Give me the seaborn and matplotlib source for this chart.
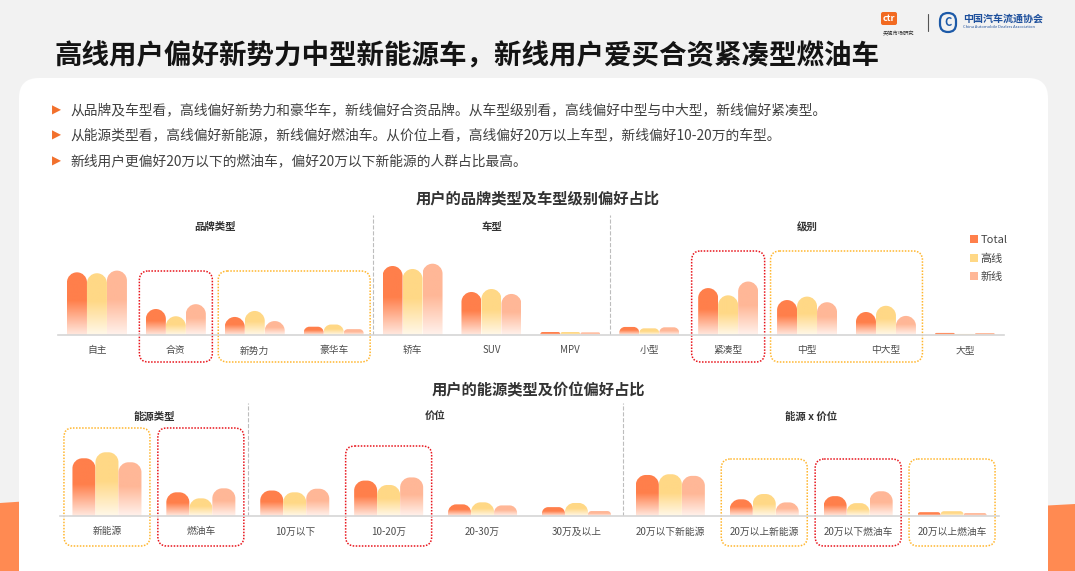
import matplotlib
matplotlib.use('Agg')
import matplotlib.pyplot as plt
import pandas as pd
import seaborn as sns
import numpy as np
from matplotlib.patches import FancyBboxPatch, PathPatch, Polygon, Patch, Rectangle
from matplotlib.path import Path

sns.set_style('white')
plt.rcParams['font.family'] = ['Noto Sans CJK SC', 'DejaVu Sans']

# data (%)
groups = ['Total', '高线', '新线']
group_colors = ['#ff7f4b', '#ffd886', '#ffb797']

top_cats = ['自主', '合资', '新势力', '豪华车', '轿车', 'SUV', 'MPV',
            '小型', '紧凑型', '中型', '中大型', '大型']
top_total = [54.5, 22.6, 15.7, 7.2, 60.0, 37.4, 2.6, 7.0, 40.8, 30.4, 20.0, 1.8]
top_high = [53.7, 16.3, 20.9, 9.1, 57.4, 40.0, 2.6, 5.8, 34.5, 33.4, 25.4, 0.9]
top_new = [56.0, 26.8, 12.1, 5.1, 62.0, 35.7, 2.3, 6.7, 46.5, 28.5, 16.6, 1.7]

bot_cats = ['新能源', '燃油车', '10万以下', '10-20万', '20-30万', '30万及以上',
            '20万以下新能源', '20万以上新能源', '20万以下燃油车', '20万以上燃油车']
bot_total = [70.9, 29.1, 31.3, 43.5, 14.3, 10.9, 50.4, 20.5, 24.4, 4.7]
bot_high = [78.3, 21.7, 29.1, 38.1, 16.8, 16.0, 51.3, 27.0, 15.8, 5.9]
bot_new = [66.0, 34.0, 33.5, 47.4, 13.0, 6.1, 49.3, 16.7, 30.4, 3.6]

top_sections = ['品牌类型', '车型', '级别']
top_section_pos = [1.5, 5, 9]
bot_sections = ['能源类型', '价位', '能源 x 价位']
bot_section_pos = [0.5, 3.5, 7.5]

W, H = 1075, 571
fig = plt.figure(figsize=(W / 100, H / 100), dpi=100, facecolor='#f2f2f2')

# background layer in pixel coords
bg = fig.add_axes([0, 0, 1, 1], zorder=0)
bg.set_xlim(0, W)
bg.set_ylim(H, 0)
bg.axis('off')
bg.add_patch(Polygon([(0, 503), (60, 499), (60, 571), (0, 571)], closed=True,
                     facecolor='#ff8a52', edgecolor='none'))
bg.add_patch(Polygon([(1020, 507), (1075, 504), (1075, 571), (1020, 571)], closed=True,
                     facecolor='#ff8a52', edgecolor='none'))
bg.add_patch(FancyBboxPatch((19, 78), 1029, 540, boxstyle='round,pad=0,rounding_size=20',
                            facecolor='white', edgecolor='none'))

# logos
bg.add_patch(FancyBboxPatch((881, 12), 16, 13, boxstyle='round,pad=0,rounding_size=2',
                            facecolor='#f26a21', edgecolor='none'))
bg.text(889, 18.5, 'ctr', color='white', fontsize=6.5, fontweight='bold', ha='center', va='center')
bg.text(898.5, 34, '央视市场研究', color='#333333', fontsize=3.8, ha='center', va='center')
bg.plot([928, 928], [14, 31], color='#555555', lw=0.8)
bg.add_patch(FancyBboxPatch((940, 13), 16, 19, boxstyle='round,pad=0,rounding_size=8',
                            facecolor='none', edgecolor='#1d5aa8', lw=1.6))
bg.text(948, 23, 'C', color='#1d5aa8', fontsize=8, fontweight='bold', ha='center', va='center')
bg.text(963, 18.5, '中国汽车流通协会', color='#1d4f9c', fontsize=7.2, fontweight='bold',
        ha='left', va='center')
bg.text(963, 27.5, 'China Automobile Dealers Association', color='#1d4f9c', fontsize=2.9,
        ha='left', va='center')

# title and bullets
bg.text(55, 57, '高线用户偏好新势力中型新能源车，新线用户爱买合资紧凑型燃油车',
        fontsize=19.8, fontweight='bold', color='#141414', ha='left', va='center')
bullets = ['从品牌及车型看，高线偏好新势力和豪华车，新线偏好合资品牌。从车型级别看，高线偏好中型与中大型，新线偏好紧凑型。',
           '从能源类型看，高线偏好新能源，新线偏好燃油车。从价位上看，高线偏好20万以上车型，新线偏好10-20万的车型。',
           '新线用户更偏好20万以下的燃油车，偏好20万以下新能源的人群占比最高。']
for yy, txt in zip([110, 135, 161], bullets):
    bg.text(56, yy, '▶', fontsize=8.5, color='#f2702c', ha='center', va='center',
            family=['DejaVu Sans'])
    bg.text(70, yy, txt, fontsize=9.9, color='#404040', ha='left', va='center')

bg.text(538, 198, '用户的品牌类型及车型级别偏好占比', fontsize=11, fontweight='bold',
        color='#333333', ha='center', va='center')
bg.text(538, 390, '用户的能源类型及价位偏好占比', fontsize=11, fontweight='bold',
        color='#333333', ha='center', va='center')


def make_axes(left, right, top, bottom):
    ax = fig.add_axes([left / W, (H - bottom) / H, (right - left) / W, (bottom - top) / H], zorder=2)
    ax.set_facecolor('none')
    return ax


def long_df(cats, vals):
    df = pd.DataFrame({'cat': cats, 'Total': vals[0], '高线': vals[1], '新线': vals[2]})
    return df.melt(id_vars='cat', var_name='group', value_name='value')


def gradient_bars(ax, radius=10):
    xl, yl = ax.get_xlim(), ax.get_ylim()
    bb = ax.get_window_extent()
    sx = bb.width / (xl[1] - xl[0])
    sy = bb.height / (yl[1] - yl[0])
    k = 0.5523
    for p in [p for p in ax.patches if isinstance(p, Rectangle)]:
        x, w, h = p.get_x(), p.get_width(), p.get_height()
        base = np.array(p.get_facecolor()[:3])
        p.set_visible(False)
        if h <= 0:
            continue
        r = min(radius, w * sx / 2, h * sy * 0.7)
        rx, ry = r / sx, r / sy
        verts = [(x, 0), (x, h - ry), (x, h - ry + k * ry), (x + rx - k * rx, h), (x + rx, h),
                 (x + w - rx, h), (x + w - rx + k * rx, h), (x + w, h - ry + k * ry), (x + w, h - ry),
                 (x + w, 0), (x, 0)]
        codes = [Path.MOVETO, Path.LINETO, Path.CURVE4, Path.CURVE4, Path.CURVE4, Path.LINETO,
                 Path.CURVE4, Path.CURVE4, Path.CURVE4, Path.LINETO, Path.CLOSEPOLY]
        clip = PathPatch(Path(verts, codes), facecolor='none', edgecolor='none', transform=ax.transData)
        ax.add_patch(clip)
        # solid on top, fading towards white at the base
        t = np.linspace(0, 1, 80)
        a = np.clip(0.18 + 0.82 * (t / 0.55), 0, 1)
        img = base[None, :] * a[:, None] + (1 - a[:, None])
        im = ax.imshow(img[:, None, :], extent=[x, x + w, 0, h], origin='lower', aspect='auto',
                       interpolation='bilinear', zorder=2)
        im.set_clip_path(clip)
    ax.set_xlim(xl)
    ax.set_ylim(yl)


def draw_chart(ax, cats, vals, width, ymax, seps):
    df = long_df(cats, vals)
    sns.barplot(data=df, x='cat', y='value', hue='group', order=cats, hue_order=groups,
                palette=group_colors, width=width, saturation=1, linewidth=0, errorbar=None,
                legend=False, ax=ax)
    ax.set_xlim(-0.5, len(cats) - 0.5)
    ax.set_ylim(0, ymax)
    ax.set_xlabel('')
    ax.set_ylabel('')
    ax.set_yticks([])
    ax.set_xticks(range(len(cats)))
    ax.set_xticklabels(cats, fontsize=7, color='#4d4d4d')
    ax.tick_params(axis='x', length=0, pad=7.5)
    for s in ['top', 'left', 'right']:
        ax.spines[s].set_visible(False)
    ax.spines['bottom'].set_color('#d6d6d6')
    ax.spines['bottom'].set_linewidth(1.2)
    for s in seps:
        ax.axvline(s, ymin=0, ymax=1, color='#bdbdbd', ls='--', lw=0.8, zorder=1)
    gradient_bars(ax)


# top chart: 1% = 1.15 px, baseline at y=335
top_l, top_r = 57.5, 57.5 + 12 * 78.9
ax1 = make_axes(top_l, top_r, 215, 335)
draw_chart(ax1, top_cats, [top_total, top_high, top_new], 0.76, 120 / 1.15, [3.5, 6.5])

# bottom chart: 1% = 0.814 px, baseline at y=516
bot_l, bot_r = 60, 60 + 10 * 93.9
ax2 = make_axes(bot_l, bot_r, 403, 516)
draw_chart(ax2, bot_cats, [bot_total, bot_high, bot_new], 0.735, 113 / 0.814, [1.5, 5.5])


def px(left, unit, i):
    return left + (i + 0.5) * unit


for name, pos in zip(top_sections, top_section_pos):
    bg.text(px(top_l, 78.9, pos), 227, name, fontsize=7.5, fontweight='bold', color='#333333',
            ha='center', va='center')
for name, pos in zip(bot_sections, bot_section_pos):
    bg.text(px(bot_l, 93.9, pos), 417, name, fontsize=7.5, fontweight='bold', color='#333333',
            ha='center', va='center')

# highlight boxes (category index ranges)
RED, ORANGE = '#e8141b', '#ffb62e'
top_boxes = [(1, 1, 271, RED), (2, 3, 271, ORANGE), (8, 8, 251, RED), (9, 10, 251, ORANGE)]
bot_boxes = [(0, 0, 428, ORANGE), (1, 1, 428, RED), (3, 3, 446, RED),
             (7, 7, 459, ORANGE), (8, 8, 459, RED), (9, 9, 459, ORANGE)]
for i0, i1, ytop, c in top_boxes:
    x0 = px(top_l, 78.9, i0) - 36.5
    x1 = px(top_l, 78.9, i1) + 36.5
    bg.add_patch(FancyBboxPatch((x0, ytop), x1 - x0, 362 - ytop, boxstyle='round,pad=0,rounding_size=9',
                                facecolor='none', edgecolor=c, lw=1.1, ls=(0, (1, 1)), zorder=3))
for i0, i1, ytop, c in bot_boxes:
    x0 = px(bot_l, 93.9, i0) - 43
    x1 = px(bot_l, 93.9, i1) + 43
    bg.add_patch(FancyBboxPatch((x0, ytop), x1 - x0, 546 - ytop, boxstyle='round,pad=0,rounding_size=9',
                                facecolor='none', edgecolor=c, lw=1.1, ls=(0, (1, 1)), zorder=3))

# legend
handles = [Patch(facecolor=c, edgecolor='none') for c in group_colors]
leg = bg.legend(handles, groups, loc='upper left', bbox_to_anchor=(970, 235),
                bbox_transform=bg.transData, frameon=False, fontsize=8, handlelength=0.75,
                handleheight=0.75, handletextpad=0.2, labelspacing=0.75, borderpad=0,
                borderaxespad=0)
for t in leg.get_texts():
    t.set_color('#444444')

plt.savefig('out.png', dpi=100, facecolor=fig.get_facecolor())
plt.close()
